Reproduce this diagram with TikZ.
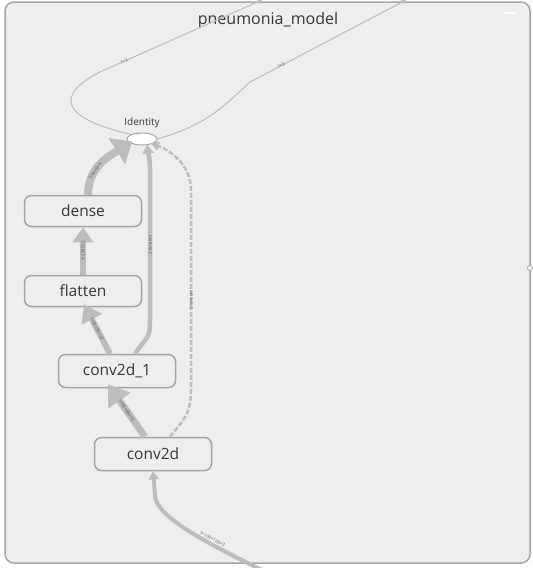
\documentclass[tikz,border=0pt]{standalone}
\usepackage{fontspec}
\setmainfont{Open Sans}
\usepackage{xcolor}
\usetikzlibrary{shapes,arrows.meta,positioning,calc}
\definecolor{bgpanel}{HTML}{EEEEEE}
\definecolor{frameline}{HTML}{A6A6A6}
\definecolor{boxline}{HTML}{A4A4A4}
\definecolor{edgegray}{HTML}{BDBDBD}
\definecolor{thingray}{HTML}{BFBFBF}
\definecolor{txt}{HTML}{363636}

\begin{document}
\begin{tikzpicture}[
    x=1pt, y=-1pt,
    op/.style={rectangle, rounded corners=7pt, draw=boxline, fill=bgpanel, line width=1.5pt,
        minimum width=117pt, minimum height=31pt, text=txt, font=\fontsize{15.5}{16}\selectfont},
    flow/.style={draw=edgegray, line width=#1},
    thin/.style={draw=thingray, line width=1.1pt, -{Stealth[length=5pt,width=5pt]}},
    elabel/.style={sloped, midway, font=\fontsize{4.5}{5}\selectfont, text=black!65, inner sep=0pt}
]
    \useasboundingbox (0,0) rectangle (533,568);

    % model frame
    \draw[rounded corners=9pt, fill=bgpanel, draw=frameline, line width=1.5pt] (5,2) rectangle (530,563);
    \node[text=txt, font=\fontsize{16}{16}\selectfont] (title) at (268,20) {pneumonia\_model};
    \draw[white, line width=1.6pt] (505,13) -- (516,13);

    % ops
    \node[ellipse, draw=boxline, fill=white, line width=1pt, minimum width=30pt, minimum height=12pt, inner sep=0pt] (identity) at (142,139) {};
    \node[above=1pt of identity, text=txt, font=\fontsize{10}{10}\selectfont] (identitytext) {Identity};
    \node[op] (dense) at (83,211) {dense};
    \node[op] (flatten) at (83,291) {flatten};
    \node[op, minimum height=33pt] (conv1) at (117,371) {conv2d\_1};
    \node[op, minimum height=33pt] (conv0) at (153,454) {conv2d};
    \node[circle, draw=boxline, fill=white, line width=0.8pt, minimum size=5pt, inner sep=0pt] (port) at (530,268) {};

    % free ends
    \coordinate (input) at (262,570);
    \coordinate (outa) at (262,0);
    \coordinate (outb) at (406,0);

    % thick edges
    \draw[flow=8pt, -{Triangle[length=18pt,width=30pt]}] ([xshift=5pt]dense.north)
        .. controls +(0,-28) and +(-22,14) .. ([xshift=-10pt,yshift=4pt]identity.south)
        node[elabel, pos=0.35] {3 tensors};
    \draw[flow=6pt, -{Triangle[length=15pt,width=20pt]}] (flatten.north) -- (dense.south)
        node[elabel] {?×294912};
    \draw[flow=6pt, -{Triangle[length=17pt,width=22pt]}] ([xshift=-7pt]conv1.north) -- ([xshift=1pt,yshift=3pt]flatten.south)
        node[elabel] {?×96×96×32};
    \draw[flow=7pt, -{Triangle[length=20pt,width=26pt]}] ([xshift=-8pt]conv0.north) -- ([xshift=-9pt,yshift=4pt]conv1.south)
        node[elabel] {?×98×98×16};
    \draw[flow=4.5pt, -{Triangle[length=9pt,width=11pt]}] ([xshift=18pt]conv1.north)
        .. controls +(12,-18) and +(0,20) .. (150,320) -- (150,170)
        .. controls (150,158) and (148,152) .. ([xshift=5pt,yshift=1pt]identity.south);
    \path (150,320) -- (150,170) node[elabel] {2 tensors};
    \draw[flow=2.5pt, dashed, dash pattern=on 5pt off 2pt, -{Triangle[length=8pt,width=9pt]}] ([xshift=17pt]conv0.north)
        .. controls +(12,-15) and +(0,25) .. (191,390) -- (191,190)
        .. controls (191,165) and (170,150) .. ([xshift=-2pt]identity.south east);
    \path (191,390) -- (191,190) node[elabel, pos=0.45] {2 tensors};
    \draw[flow=4pt, -{Triangle[length=8pt,width=10pt]}] (input)
        .. controls (200,540) and (155,515) .. (155,495) -- (conv0.south);
    \path (230,548) -- (195,530) node[elabel] {?×100×100×3};

    % outputs of identity
    \draw[thin] (identity.north west) .. controls (60,118) and (55,95) .. (100,72) -- (outa)
        node[elabel, pos=0.15] {?×3};
    \draw[thin] (identity.east) .. controls (205,125) and (220,110) .. (250,82) -- (outb)
        node[elabel, pos=0.2] {?×3};
\end{tikzpicture}
\end{document}
